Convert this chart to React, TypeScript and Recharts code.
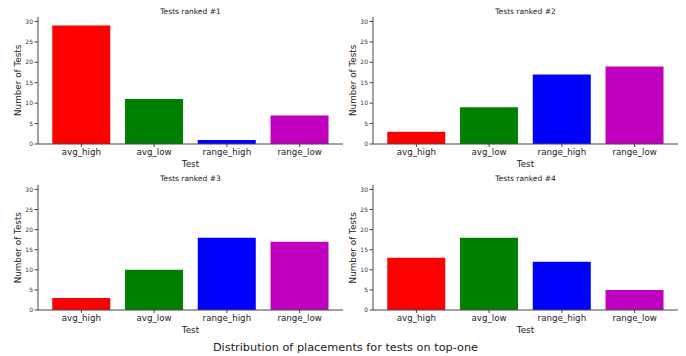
import React from 'react';
import { BarChart, Bar, XAxis, YAxis, Cell } from 'recharts';

const tests = ['avg_high', 'avg_low', 'range_high', 'range_low'];
const barColors = ['#ff0000', '#008000', '#0000ff', '#bf00bf'];
const yTicks = [0, 5, 10, 15, 20, 25, 30];

const ranked1 = [29, 11, 1, 7];
const ranked2 = [3, 9, 17, 19];
const ranked3 = [3, 10, 18, 17];
const ranked4 = [13, 18, 12, 5];

const panelTitles = ['Tests ranked #1', 'Tests ranked #2', 'Tests ranked #3', 'Tests ranked #4'];
const figureTitle = 'Distribution of placements for tests on top-one';

const FONT = '"DejaVu Sans", Verdana, sans-serif';
const AXIS = '#444';

type PanelProps = {
  values: number[];
  left: number;
  top: number;
  yAxisWidth: number;
  rightMargin: number;
  height: number;
  xAxisHeight: number;
};

const Panel: React.FC<PanelProps> = ({ values, left, top, yAxisWidth, rightMargin, height, xAxisHeight }) => {
  const data = tests.map((t, i) => ({ test: t, count: values[i] }));
  return (
    <div style={{ position: 'absolute', left, top }}>
      <BarChart
        width={345}
        height={height}
        data={data}
        margin={{ top: 17, right: rightMargin, left: 0, bottom: 0 }}
        barCategoryGap="10%"
      >
        <XAxis
          dataKey="test"
          type="category"
          height={xAxisHeight}
          padding={{ left: 7, right: 7 }}
          tickSize={3}
          tickMargin={2}
          interval={0}
          axisLine={{ stroke: AXIS, strokeWidth: 1 }}
          tickLine={{ stroke: AXIS }}
          tick={{ fontSize: 8.7, fill: '#222', fontFamily: FONT }}
        />
        <YAxis
          type="number"
          width={yAxisWidth}
          domain={[0, 31.1]}
          ticks={yTicks}
          tickSize={3.5}
          tickMargin={1.5}
          axisLine={{ stroke: AXIS, strokeWidth: 1 }}
          tickLine={{ stroke: AXIS }}
          tick={{ fontSize: 6, fill: '#333', fontFamily: FONT }}
        />
        <Bar dataKey="count" isAnimationActive={false}>
          {data.map((d, i) => (
            <Cell key={d.test} fill={barColors[i]} />
          ))}
        </Bar>
      </BarChart>
    </div>
  );
};

const App: React.FC = () => {
  // plot area centres, used for the titles and axis labels
  const cols = [
    { cx: 190.5, yl: 18.3 },
    { cx: 525.5, yl: 353.3 },
  ];
  const rows = [
    { titleY: 14, plotMid: 80.3, testY: 166.5 },
    { titleY: 180.5, plotMid: 247.7, testY: 333 },
  ];

  return (
    <div
      style={{
        position: 'absolute',
        left: 0,
        top: 0,
        width: 686,
        height: 356,
        background: '#fff',
        fontFamily: FONT,
      }}
    >
      <Panel values={ranked1} left={0} top={0} yAxisWidth={38} rightMargin={2} height={175} xAxisHeight={31} />
      <Panel values={ranked2} left={340} top={0} yAxisWidth={33} rightMargin={7} height={175} xAxisHeight={31} />
      <Panel values={ranked3} left={0} top={168} yAxisWidth={38} rightMargin={2} height={174} xAxisHeight={32} />
      <Panel values={ranked4} left={340} top={168} yAxisWidth={33} rightMargin={7} height={174} xAxisHeight={32} />

      <svg
        width={686}
        height={356}
        style={{ position: 'absolute', left: 0, top: 0, pointerEvents: 'none' }}
        fontFamily={FONT}
      >
        {rows.map((r, ri) =>
          cols.map((c, ci) => (
            <g key={`${ri}-${ci}`}>
              <text x={c.cx} y={r.titleY} textAnchor="middle" fontSize={7.5} fill="#222">
                {panelTitles[ri * 2 + ci]}
              </text>
              <text x={c.cx} y={r.testY} textAnchor="middle" fontSize={8.8} fill="#222">
                Test
              </text>
              <text
                x={c.yl}
                y={r.plotMid}
                textAnchor="middle"
                dominantBaseline="central"
                fontSize={8.8}
                fill="#222"
                transform={`rotate(-90 ${c.yl} ${r.plotMid})`}
              >
                Number of Tests
              </text>
            </g>
          ))
        )}
        <text x={345.5} y={351} textAnchor="middle" fontSize={11.3} fill="#222">
          {figureTitle}
        </text>
      </svg>
    </div>
  );
};

export default App;
